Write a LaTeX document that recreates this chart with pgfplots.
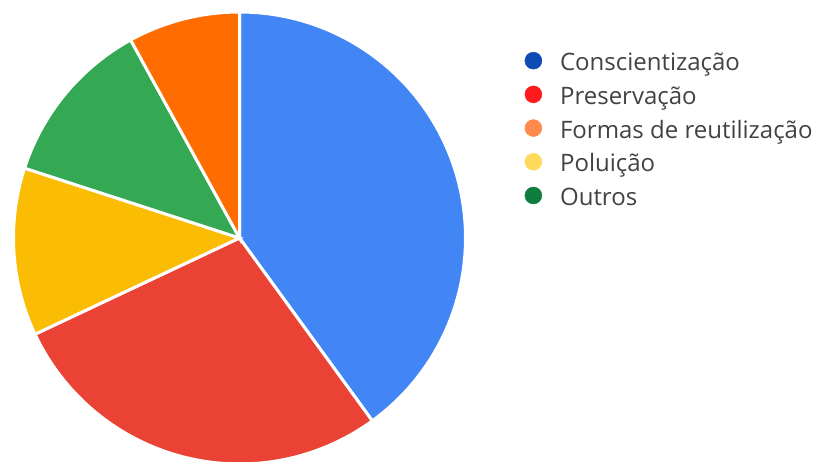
\documentclass[border=0pt]{standalone}
\usepackage{pgfplots}
\pgfplotsset{compat=1.18}
\usepackage{fontspec}
\setmainfont{Open Sans}
\definecolor{pblue}{HTML}{4285F4}
\definecolor{pred}{HTML}{EA4335}
\definecolor{pyellow}{HTML}{FBBC04}
\definecolor{pgreen}{HTML}{34A853}
\definecolor{porange}{HTML}{FF6D01}
\definecolor{lblue}{HTML}{0E4BB4}
\definecolor{lred}{HTML}{FF1A1E}
\definecolor{lorange}{HTML}{FF8A4C}
\definecolor{lyellow}{HTML}{FFD95C}
\definecolor{lgreen}{HTML}{0F7D3C}
\definecolor{txt}{HTML}{424242}
% counts, clockwise from 12 o'clock
\def\vA{10}% Conscientizacao
\def\vB{7}%  Preservacao
\def\vC{3}%  Poluicao
\def\vD{3}%  Outros
\def\vE{2}%  Formas de reutilizacao
\pgfmathsetmacro\tot{\vA+\vB+\vC+\vD+\vE}
\pgfmathsetmacro\aA{90}
\pgfmathsetmacro\aB{\aA-360*\vA/\tot}
\pgfmathsetmacro\aC{\aB-360*\vB/\tot}
\pgfmathsetmacro\aD{\aC-360*\vC/\tot}
\pgfmathsetmacro\aE{\aD-360*\vD/\tot}
\pgfmathsetmacro\aF{\aE-360*\vE/\tot}
\begin{document}
\begin{tikzpicture}
\useasboundingbox (0,0) rectangle (820pt,461pt);
\begin{axis}[
  hide axis, scale only axis, clip=false,
  width=452pt, height=452pt,
  xmin=-226, xmax=226, ymin=-226, ymax=226,
  anchor=south west, at={(13.5pt,-3pt)},
  legend style={draw=none, fill=none, inner sep=0pt, anchor=north west,
    at={(1.1305,0.912)}, font=\fontsize{24}{28}\selectfont, text=txt,
    row sep=15pt,
    nodes={inner sep=0pt, text height=17pt, text depth=0pt},
    /tikz/every odd column/.append style={column sep=18pt}},
  legend cell align=left,
]
\addplot[fill=pblue, draw=white, line width=3pt, domain=\aB:\aA, samples=120, variable=\t, forget plot]
  ({226*cos(\t)},{226*sin(\t)}) -- (axis cs:0,0) -- cycle;
\addplot[fill=pred, draw=white, line width=3pt, domain=\aC:\aB, samples=90, variable=\t, forget plot]
  ({226*cos(\t)},{226*sin(\t)}) -- (axis cs:0,0) -- cycle;
\addplot[fill=pyellow, draw=white, line width=3pt, domain=\aD:\aC, samples=50, variable=\t, forget plot]
  ({226*cos(\t)},{226*sin(\t)}) -- (axis cs:0,0) -- cycle;
\addplot[fill=pgreen, draw=white, line width=3pt, domain=\aE:\aD, samples=50, variable=\t, forget plot]
  ({226*cos(\t)},{226*sin(\t)}) -- (axis cs:0,0) -- cycle;
\addplot[fill=porange, draw=white, line width=3pt, domain=\aF:\aE, samples=40, variable=\t, forget plot]
  ({226*cos(\t)},{226*sin(\t)}) -- (axis cs:0,0) -- cycle;
\addlegendimage{legend image code/.code={\fill[lblue] (8.5pt,1.5pt) circle (8.5pt);}}
\addlegendentry{Conscientização}
\addlegendimage{legend image code/.code={\fill[lred] (8.5pt,1.5pt) circle (8.5pt);}}
\addlegendentry{Preservação}
\addlegendimage{legend image code/.code={\fill[lorange] (8.5pt,1.5pt) circle (8.5pt);}}
\addlegendentry{Formas de reutilização}
\addlegendimage{legend image code/.code={\fill[lyellow] (8.5pt,1.5pt) circle (8.5pt);}}
\addlegendentry{Poluição}
\addlegendimage{legend image code/.code={\fill[lgreen] (8.5pt,1.5pt) circle (8.5pt);}}
\addlegendentry{Outros}
\end{axis}
\end{tikzpicture}
\end{document}
